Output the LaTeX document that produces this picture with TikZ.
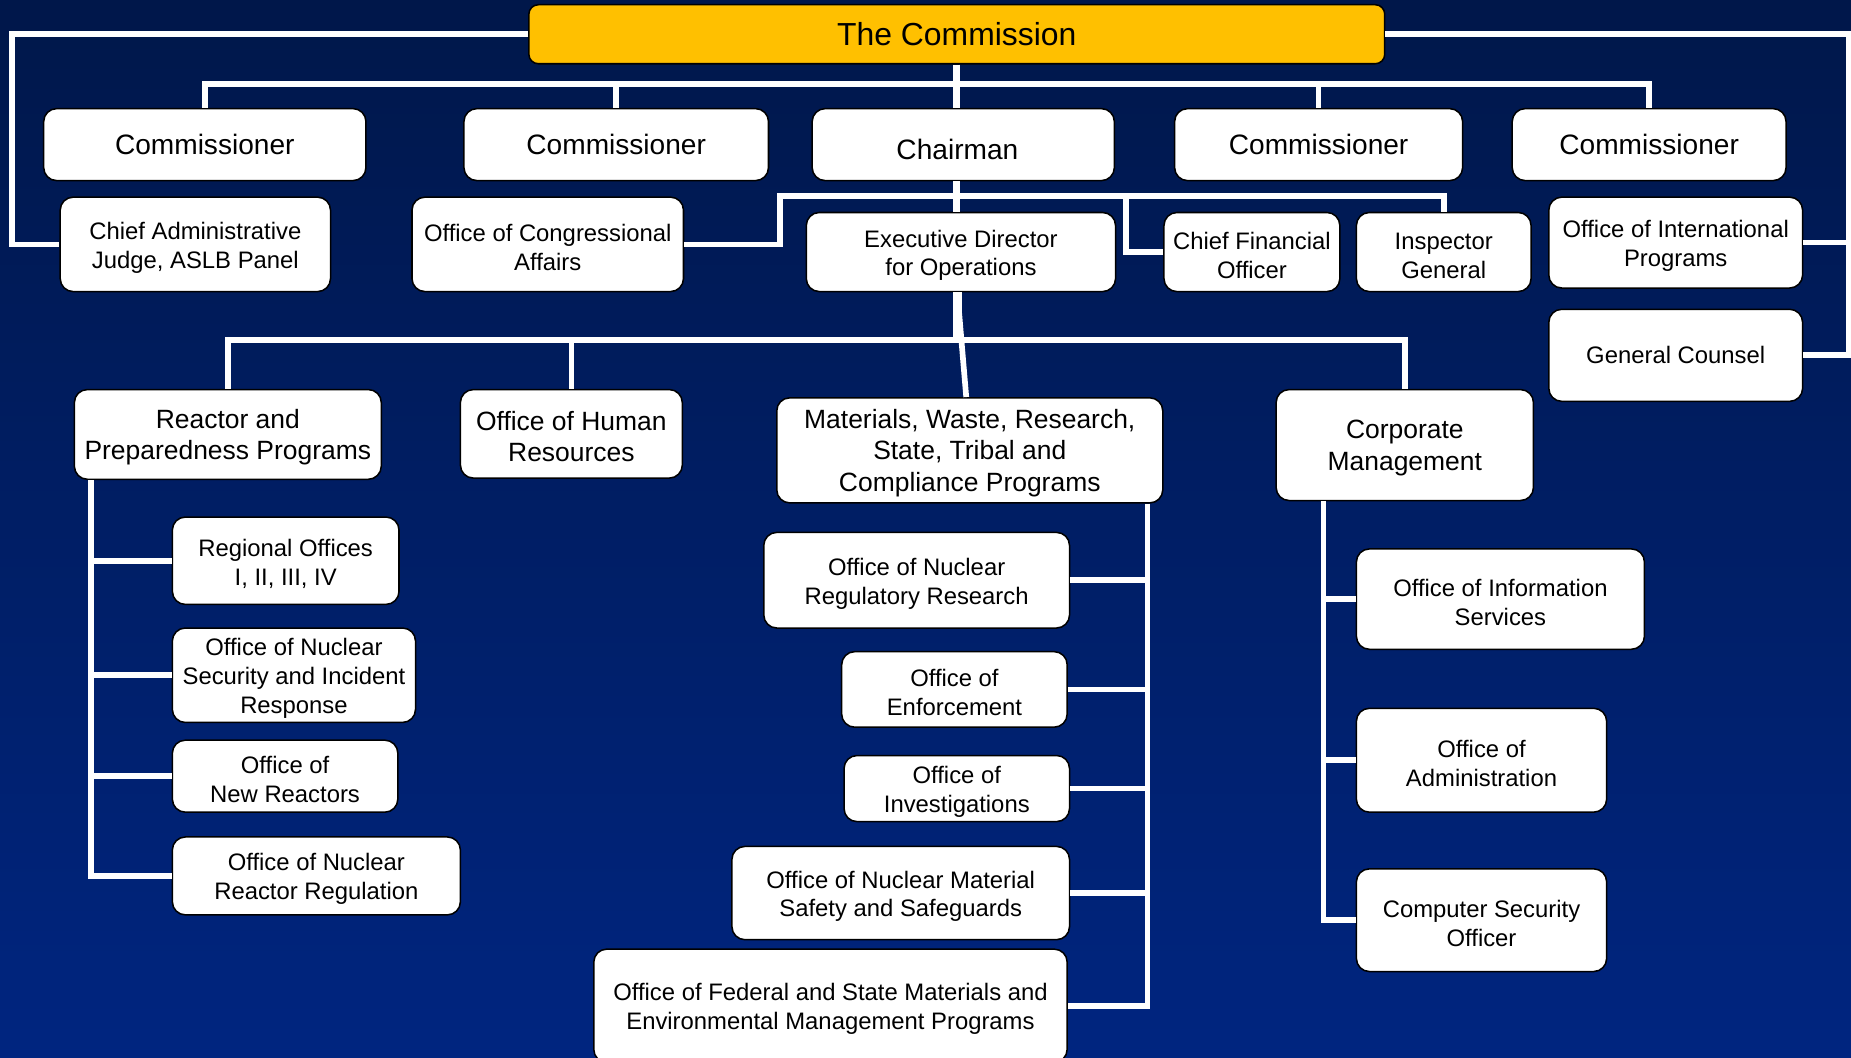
\documentclass[tikz,border=0pt]{standalone}
\usepackage{fontspec}
\setmainfont{Liberation Sans}
\definecolor{bgtop}{RGB}{0,23,74}
\definecolor{bgbot}{RGB}{0,37,128}
\definecolor{gold}{RGB}{255,192,0}
\newcommand{\topA}{\rule{0pt}{1.0em}}
\newcommand{\topB}{\rule{0pt}{0.93em}}
\tikzset{
  box/.style={draw=black, line width=1.3pt, fill=white, rounded corners=11pt, inner sep=0pt, align=center, text=black},
  fs/.style={font=\fontsize{20.2}{24.5}\selectfont},
  fm/.style={font=\fontsize{22.4}{27}\selectfont},
  fc/.style={font=\fontsize{23.8}{28}\selectfont},
  conn/.style={draw=white, line width=4.8pt},
  trunk/.style={draw=white, line width=6pt},
}
\begin{document}
\begin{tikzpicture}[x=1pt,y=-1pt]
\useasboundingbox (0,0) rectangle (1568,896);
\clip (0,0) rectangle (1568,896);
\shade[top color=bgtop,bottom color=bgbot] (0,0) rectangle (1568,896);

% top
\node[box, fill=gold, rounded corners=8pt, minimum width=725pt, minimum height=50pt, font=\fontsize{27}{32}\selectfont] (com) at (810.5,29) {The Commission};

% row 1
\node[box,fc,minimum width=273pt,minimum height=61pt] (c1) at (173.5,122.5) {Commissioner};
\node[box,fc,minimum width=258pt,minimum height=61pt] (c2) at (522,122.5) {Commissioner};
\node[box,fc,minimum width=256pt,minimum height=61pt] (chair) at (816,122.5) {\raisebox{-4.5pt}[\height][\depth]{Chairman\hspace{10pt}}};
\node[box,fc,minimum width=244pt,minimum height=61pt] (c3) at (1117,122.5) {Commissioner};
\node[box,fc,minimum width=232pt,minimum height=61pt] (c4) at (1397,122.5) {Commissioner};

% row 2
\node[box,fs,minimum width=229pt,minimum height=80pt] (caj) at (165.5,207) {\topA Chief Administrative\\Judge, ASLB Panel};
\node[box,fs,minimum width=230pt,minimum height=80pt] (oca) at (464,207) {\topA Office of Congressional\\Affairs};
\node[box,fs,minimum width=262pt,minimum height=67pt] (edo) at (814,213.5) {\topA Executive Director\\for Operations};
\node[box,fs,minimum width=149pt,minimum height=67pt] (cfo) at (1060.5,213.5) {\topA Chief Financial\\Officer};
\node[box,fs,minimum width=148pt,minimum height=67pt] (ig) at (1223,213.5) {\topA Inspector\\General};
\node[box,fs,minimum width=215pt,minimum height=77pt] (oip) at (1419.5,205.5) {\topA Office of International\\Programs};
\node[box,fs,minimum width=215pt,minimum height=78pt] (gc) at (1419.5,301) {General Counsel};

% row 3
\node[box,fm,minimum width=260pt,minimum height=76pt] (rpp) at (193,368) {\topB Reactor and\\Preparedness Programs};
\node[box,fm,minimum width=188pt,minimum height=75pt] (ohr) at (484,367.5) {\topB Office of Human\\Resources};
\node[box,fm,minimum width=327pt,minimum height=89pt] (mat) at (821.5,381.5) {\topB Materials, Waste, Research,\\State, Tribal and\\Compliance Programs};
\node[box,fm,minimum width=218pt,minimum height=94pt] (cm) at (1190,377) {\topB Corporate\\Management};

% left column
\node[box,fs,minimum width=192pt,minimum height=74pt] (reg) at (242,475) {\topA Regional Offices\\I, II, III, IV};
\node[box,fs,minimum width=206pt,minimum height=80pt] (nsir) at (249,572) {\topA Office of Nuclear\\Security and Incident\\Response};
\node[box,fs,minimum width=191pt,minimum height=61pt] (nro) at (241.5,657.5) {\topA Office of\\New Reactors};
\node[box,fs,minimum width=244pt,minimum height=66pt] (nrr) at (268,742) {\topA Office of Nuclear\\Reactor Regulation};

% middle column
\node[box,fs,minimum width=259pt,minimum height=81pt] (res) at (776.5,491.5) {\topA Office of Nuclear\\Regulatory Research};
\node[box,fs,minimum width=191pt,minimum height=64pt] (oe) at (808.5,584) {\topA Office of\\Enforcement};
\node[box,fs,minimum width=191pt,minimum height=56pt] (oi) at (810.5,668) {\topA Office of\\Investigations};
\node[box,fs,minimum width=286pt,minimum height=79pt] (nmss) at (763,756.5) {\topA Office of Nuclear Material\\Safety and Safeguards};
\node[box,fs,minimum width=401pt,minimum height=96pt] (fsme) at (703.5,852) {\topA Office of Federal and State Materials and\\Environmental Management Programs};

% right column
\node[box,fs,minimum width=244pt,minimum height=85pt] (ois) at (1271,507.5) {\topA Office of Information\\Services};
\node[box,fs,minimum width=212pt,minimum height=88pt] (adm) at (1255,644) {\topA Office of\\Administration};
\node[box,fs,minimum width=212pt,minimum height=87pt] (cso) at (1255,779.5) {\topA Computer Security\\Officer};

% connectors: commission
\draw[conn] (c1.north) -- ++(0,-20) -| (c4.north);
\draw[conn] (c2.north) -- ++(0,-20);
\draw[conn] (c3.north) -- ++(0,-20);
\draw[trunk] (com.south) -- (com.south |- chair.north);
\coordinate (lx) at (10,0);
\draw[conn] (com.west) -- (com.west -| lx) |- (caj.west);
\coordinate (rx) at (1566,0);
\draw[conn] (com.east) -- (com.east -| rx) |- (gc.east);
\draw[conn] (oip.east) -- (oip.east -| rx);

% chairman
\coordinate (cb) at (661,166);
\draw[conn] (oca.east) -- (oca.east -| cb) -- (cb) -| (ig.north);
\coordinate (cfx) at (954,166);
\draw[conn] (cfx) |- (cfo.west);
\draw[trunk] (com.south |- chair.south) -- (com.south |- edo.north);

% executive director
\coordinate (eb) at (0,288);
\draw[conn] (rpp.north) -- (rpp.north |- eb) -| (cm.north);
\draw[conn] (ohr.north) -- (ohr.north |- eb);
\draw[conn, line width=7.5pt] ([xshift=-3pt]edo.south) -- ++(0,40);
\draw[conn] ([xshift=-3pt]edo.south) -- ([xshift=-3pt]mat.north);

% spines
\coordinate (ls) at (77,0);
\draw[conn] (rpp.south -| ls) |- (nrr.west);
\foreach \n in {reg,nsir,nro} \draw[conn] (\n.west) -- (\n.west -| ls);
\coordinate (ms) at (972,0);
\draw[conn] (mat.south -| ms) |- (fsme.east);
\foreach \n in {res,oe,oi,nmss} \draw[conn] (\n.east) -- (\n.east -| ms);
\coordinate (rs) at (1121,0);
\draw[conn] (cm.south -| rs) |- (cso.west);
\foreach \n in {ois,adm} \draw[conn] (\n.west) -- (\n.west -| rs);
\end{tikzpicture}
\end{document}
